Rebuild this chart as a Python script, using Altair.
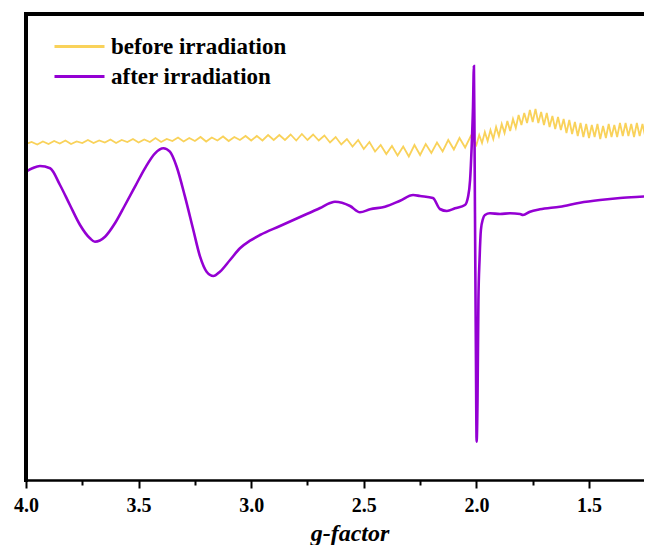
import altair as alt
import pandas as pd

series_names = ["before irradiation", "after irradiation"]
series_colors = ["#F9D25A", "#9400D3"]

# before irradiation (noisy trace), g-factor vs signal (a.u.)
g_before = [
    4.000, 3.975, 3.950, 3.925, 3.900, 3.875, 3.850, 3.825, 3.800, 3.775,
    3.750, 3.725, 3.700, 3.675, 3.650, 3.625, 3.600, 3.575, 3.550, 3.525,
    3.500, 3.475, 3.450, 3.425, 3.400, 3.375, 3.350, 3.325, 3.300, 3.275,
    3.250, 3.225, 3.200, 3.175, 3.150, 3.125, 3.100, 3.075, 3.050, 3.025,
    3.000, 2.975, 2.950, 2.925, 2.900, 2.875, 2.850, 2.825, 2.800, 2.775,
    2.750, 2.725, 2.700, 2.675, 2.650, 2.625, 2.600, 2.575, 2.550, 2.525,
    2.500, 2.475, 2.450, 2.425, 2.400, 2.375, 2.350, 2.325, 2.300, 2.275,
    2.250, 2.225, 2.200, 2.175, 2.150, 2.125, 2.100, 2.075, 2.050, 2.025,
    2.0000, 1.9875, 1.9750, 1.9625, 1.9500, 1.9375, 1.9250, 1.9125,
    1.9000, 1.8875, 1.8750, 1.8625, 1.8500, 1.8375, 1.8250, 1.8125,
    1.8000, 1.7875, 1.7750, 1.7625, 1.7500, 1.7375, 1.7250, 1.7125,
    1.7000, 1.6875, 1.6750, 1.6625, 1.6500, 1.6375, 1.6250, 1.6125,
    1.6000, 1.5875, 1.5750, 1.5625, 1.5500, 1.5375, 1.5250, 1.5125,
    1.5000, 1.4875, 1.4750, 1.4625, 1.4500, 1.4375, 1.4250, 1.4125,
    1.4000, 1.3875, 1.3750, 1.3625, 1.3500, 1.3375, 1.3250, 1.3125,
    1.3000, 1.2875, 1.2750, 1.2625, 1.2500,
]
s_before = [
    336, 338, 335.5, 338.5, 336, 339, 336.5, 339.5, 336, 338.5,
    337, 340, 337, 339.5, 337.5, 340.5, 337, 340, 338, 341,
    337.5, 340.5, 338, 342, 338, 341, 339, 342.5, 338.5, 342,
    339, 343, 338.5, 342.5, 339.5, 343.5, 339, 343, 340, 344,
    339.5, 344, 339.5, 345, 340, 345, 340, 345.5, 339.5, 346,
    340, 345.5, 339.5, 344.5, 337.5, 343, 335.5, 341, 333.5, 340,
    331, 338, 328.5, 335, 326, 334, 324.5, 333.5, 323.5, 335,
    325, 336, 327, 337.5, 328.5, 340, 330.5, 342, 332.5, 344,
    335, 345, 337, 348, 339, 350, 341, 353,
    344, 356, 347, 359, 349, 361, 352, 365,
    355, 367, 357, 370, 358, 371, 357, 368,
    355, 367, 353, 364, 351, 363, 350, 361,
    347, 360, 346, 358, 344, 357, 343, 356,
    342, 355, 343, 356, 341, 354, 342, 356,
    343, 355, 343, 357, 344, 357, 344, 356,
    343, 357, 344, 356, 343,
]

# after irradiation
g_after = [
    4.000, 3.969, 3.938, 3.893, 3.849, 3.805, 3.760, 3.716, 3.694, 3.649,
    3.605, 3.560, 3.516, 3.472, 3.427, 3.390, 3.361, 3.331, 3.294, 3.257,
    3.227, 3.198, 3.168, 3.139, 3.094, 3.050, 3.005, 2.961, 2.872, 2.783,
    2.694, 2.650, 2.628, 2.561, 2.517, 2.472, 2.406, 2.339, 2.281, 2.250,
    2.193, 2.162, 2.131, 2.095, 2.051, 2.037, 2.028, 2.021, 2.015, 2.011,
    2.008, 2.005, 2.002, 1.999, 1.995, 1.991, 1.986, 1.980, 1.971, 1.962,
    1.940, 1.895, 1.851, 1.806, 1.793, 1.762, 1.718, 1.629, 1.540, 1.451,
    1.362, 1.274, 1.220,
]
s_after = [
    308.3, 312, 314, 311.7, 295, 275, 255, 241.7, 238.3, 243.3,
    256.7, 275, 293.3, 311.7, 326.7, 331.7, 328.3, 313.3, 283.3, 250,
    223.3, 208.3, 204, 208.3, 220, 231.7, 239.3, 245, 254, 263,
    272, 277, 278.3, 274, 267.7, 270.7, 273.3, 279.3, 285, 284,
    282, 271, 269, 271.7, 275, 283.3, 300, 333.3, 373.3, 414,
    330, 220, 120, 38.3, 80, 180, 220, 250, 261, 265,
    266.7, 266, 266.7, 266, 265, 268.3, 270.7, 273.3, 277.3, 280,
    282, 283.3, 284,
]

x_ticks = [4.0, 3.75, 3.5, 3.25, 3.0, 2.75, 2.5, 2.25, 2.0, 1.75, 1.5]
x_domain = [4.0, 1.2202]
y_domain = [0, 466]

df_b = pd.DataFrame({"g": g_before, "signal": s_before, "series": series_names[0]})
df_a = pd.DataFrame({"g": g_after, "signal": s_after, "series": series_names[1]})

FONT = "Liberation Serif"
major_test = "abs(datum.value*2 - round(datum.value*2)) < 0.01"

color = alt.Color(
    "series:N",
    scale=alt.Scale(domain=series_names, range=series_colors),
    legend=alt.Legend(
        title=None,
        orient="none",
        legendX=39.5,
        legendY=18.5,
        symbolType="M-2,0L2,0",
        symbolSize=625,
        symbolStrokeWidth=3,
        labelFont=FONT,
        labelFontSize=23,
        labelFontWeight="bold",
        labelColor="black",
        labelOffset=17.5,
        labelLimit=400,
        rowPadding=4,
        padding=0,
    ),
)

x_axis = alt.Axis(
    orient="bottom",
    values=x_ticks,
    labelExpr=f"{major_test} ? format(datum.value, '.1f') : ''",
    tickSize={"condition": {"test": major_test, "value": 8}, "value": 5},
    tickWidth=2,
    tickColor="black",
    domainColor="black",
    domainWidth=2.5,
    domainCap="square",
    grid=False,
    labelFont=FONT,
    labelFontSize=20,
    labelFontWeight="bold",
    labelColor="black",
    labelPadding=7,
    labelFlush=False,
    labelOverlap=False,
    title="g-factor",
    titleFont=FONT,
    titleFontSize=24,
    titleFontWeight="bold",
    titleFontStyle="italic",
    titleColor="black",
    titleX=323.5,
    titleY=60,
    titleAlign="center",
    titleBaseline="alphabetic",
)

x = alt.X("g:Q", scale=alt.Scale(domain=x_domain, nice=False, zero=False), axis=x_axis)
y = alt.Y("signal:Q", scale=alt.Scale(domain=y_domain, nice=False, zero=False), axis=None)

before = alt.Chart(df_b).mark_line(strokeWidth=1.8, clip=True).encode(x=x, y=y, color=color)
after = alt.Chart(df_a).mark_line(strokeWidth=2.6, interpolate="monotone", clip=True).encode(
    x=x, y=y, color=color
)
# frame: top line and left line along the domain edges
frame_top = alt.Chart(df_a).mark_rule(color="black", strokeWidth=2.5, strokeCap="square").encode(
    x=alt.XDatum(x_domain[0], axis=x_axis),
    x2=alt.X2Datum(x_domain[1]),
    y=alt.YDatum(y_domain[1], axis=None),
)
frame_left = alt.Chart(df_a).mark_rule(color="black", strokeWidth=2.5, strokeCap="square").encode(
    x=alt.XDatum(x_domain[0], axis=x_axis),
    y=alt.YDatum(y_domain[0], axis=None),
    y2=alt.Y2Datum(y_domain[1]),
)

chart = (
    alt.layer(before, after, frame_top, frame_left)
    .properties(
        width=626,
        height=466,
        autosize=alt.AutoSizeParams(type="none"),
        padding={"left": 18, "top": 6, "right": -8, "bottom": 65},
        background="white",
    )
    .configure_view(strokeWidth=0)
)

chart.save("out.html", embed_options={"renderer": "svg", "actions": False})
